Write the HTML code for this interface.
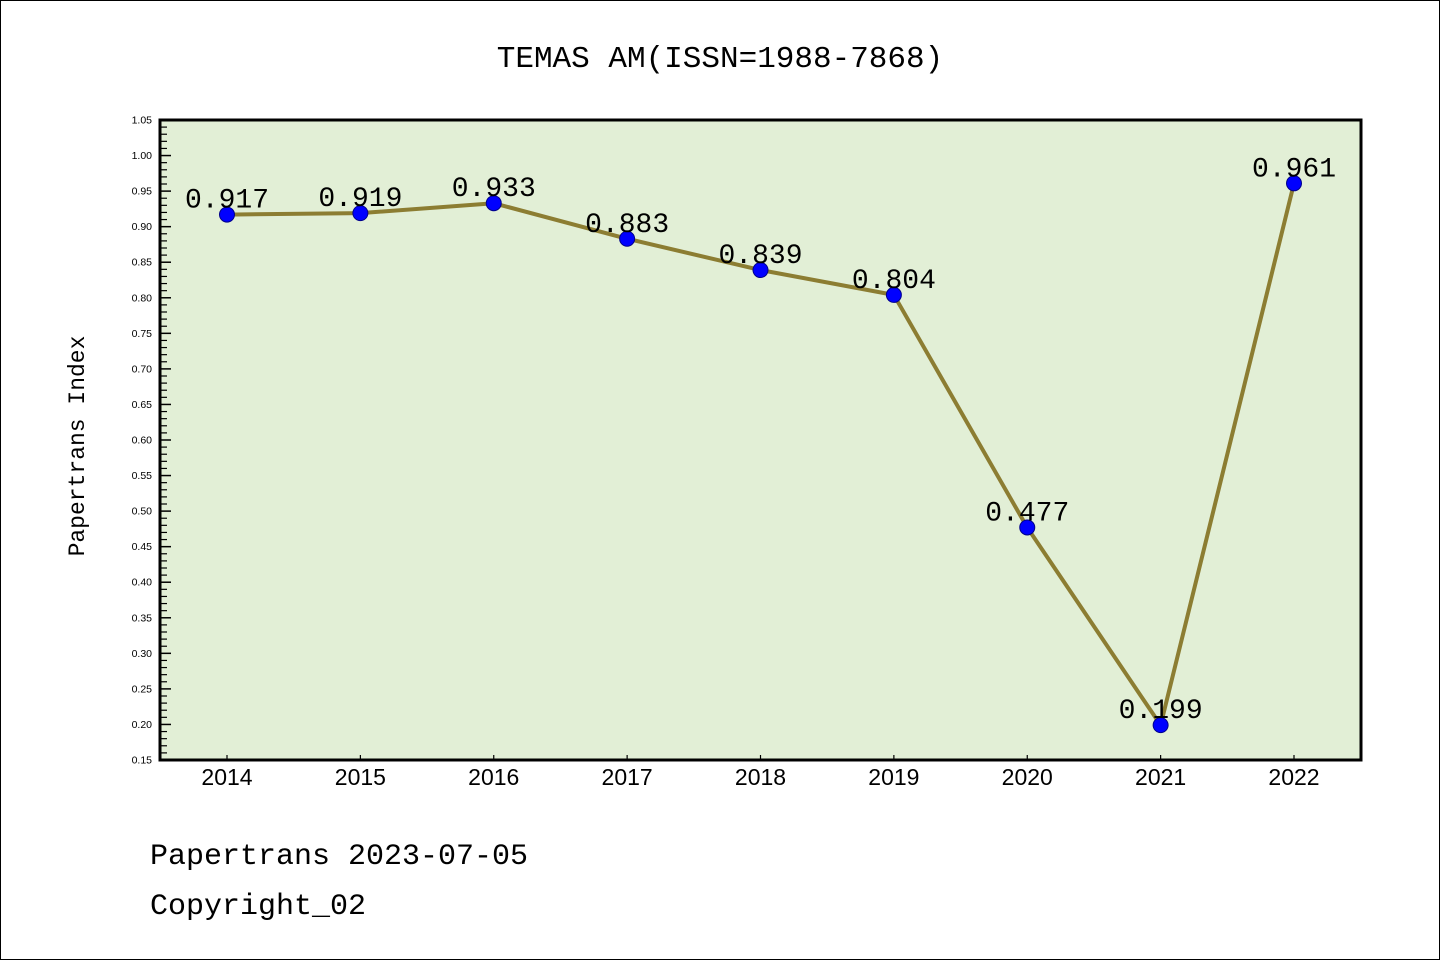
<!DOCTYPE html>
<html><head><meta charset="utf-8"><style>
html,body{margin:0;padding:0;background:#fff}
svg{display:block}
</style></head><body>
<svg id="chart" width="1440" height="960" xmlns="http://www.w3.org/2000/svg">
<rect x="0.5" y="0.5" width="1439" height="959" fill="#fff" stroke="#000" stroke-width="1"/>
<text x="720" y="67" text-anchor="middle" font-family="Liberation Mono, monospace" font-size="31">TEMAS AM(ISSN=1988-7868)</text>
<rect x="160" y="120" width="1201" height="640" fill="#e2efd6"/>
<g id="axes"></g>
<g id="series"></g>
<rect x="160" y="120" width="1201" height="640" fill="none" stroke="#000" stroke-width="3"/>
<text transform="translate(84,446) rotate(-90)" text-anchor="middle" font-family="Liberation Mono, monospace" font-size="23">Papertrans Index</text>
<text x="150" y="864" font-family="Liberation Mono, monospace" font-size="30">Papertrans 2023-07-05</text>
<text x="150" y="914" font-family="Liberation Mono, monospace" font-size="30">Copyright_02</text>
</svg>
<script>
const years = [2014,2015,2016,2017,2018,2019,2020,2021,2022];
const values = [0.917,0.919,0.933,0.883,0.839,0.804,0.477,0.199,0.961];
const valueLabels = ["0.917","0.919","0.933","0.883","0.839","0.804","0.477","0.199","0.961"];
const yTicks = [0.15,0.20,0.25,0.30,0.35,0.40,0.45,0.50,0.55,0.60,0.65,0.70,0.75,0.80,0.85,0.90,0.95,1.00,1.05];

const NS = "http://www.w3.org/2000/svg";
const X0=227, XSTEP=(1294-227)/8, Y0=760, Y1=120, VMIN=0.15, VMAX=1.05;
function xs(i){return X0+i*XSTEP;}
function ys(v){return Y0-(v-VMIN)/(VMAX-VMIN)*(Y0-Y1);}
function mk(tag,attrs){const e=document.createElementNS(NS,tag);for(const k in attrs)e.setAttribute(k,attrs[k]);return e;}
const axes=document.getElementById('axes'), series=document.getElementById('series');

// y ticks
for(let k=0;k<yTicks.length;k++){
  const v=yTicks[k], y=ys(v);
  const t=mk('line',{x1:160,x2:171,y1:y,y2:y,stroke:'#000','stroke-width':1.5});
  
  
  axes.appendChild(t);
  const l=mk('text',{x:152,y:y+3.5,'text-anchor':'end','font-family':'Liberation Sans, sans-serif','font-size':10.5});
  
  
  l.textContent=v.toFixed(2);
  axes.appendChild(l);
  if(k<yTicks.length-1){
    for(let m=1;m<5;m++){
      const ym=ys(v+m*0.01);
      const mt=mk('line',{x1:160,x2:167,y1:ym,y2:ym,stroke:'#000','stroke-width':1.2});
      
      
      axes.appendChild(mt);
    }
  }
}
// x ticks
years.forEach((yr,i)=>{
  const x=xs(i);
  const t=mk('line',{x1:x,x2:x,y1:760,y2:755,stroke:'#000','stroke-width':1.2});
  
  
  axes.appendChild(t);
  const l=mk('text',{x:x,y:785,'text-anchor':'middle','font-family':'Liberation Sans, sans-serif','font-size':23});
  
  
  l.textContent=yr;
  axes.appendChild(l);
});
// line
const pts=values.map((v,i)=>xs(i)+','+ys(v)).join(' ');
const pl=mk('polyline',{points:pts,fill:'none',stroke:'#8c7d32','stroke-width':4,'stroke-linejoin':'round'});


series.appendChild(pl);
values.forEach((v,i)=>{
  const c=mk('circle',{cx:xs(i),cy:ys(v),r:7.5,fill:'#0000ff',stroke:'#00008b','stroke-width':1});
  
  
  series.appendChild(c);
  const t=mk('text',{x:xs(i),y:ys(v)-7,'text-anchor':'middle','font-family':'Liberation Mono, monospace','font-size':28});
  
  
  t.textContent=valueLabels[i];
  series.appendChild(t);
});
</script>
</body></html>
